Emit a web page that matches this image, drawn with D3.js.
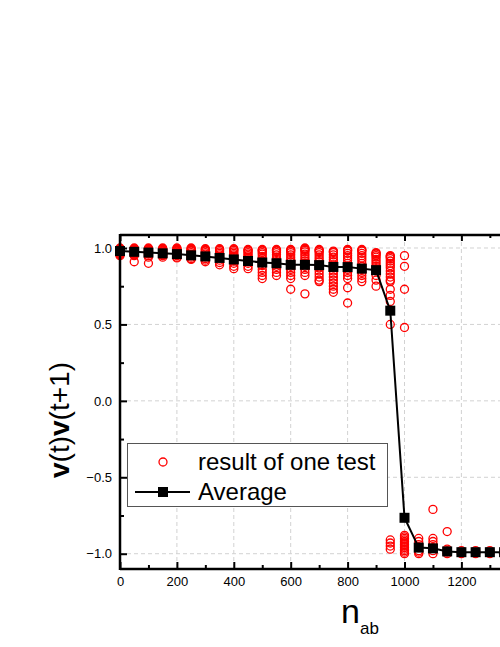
<!DOCTYPE html>
<meta charset="utf-8">
<style>
  body { margin: 0; background: #fff; }
  svg { font-family: "Liberation Sans", Arial, Helvetica, sans-serif; }
</style>

<!-- Load d3.js -->
<script src="https://d3js.org/d3.v7.min.js"></script>

<div id="chart"></div>
<script>

// n_ab values where the runs were made
var nab = [0, 50, 100, 150, 200, 250, 300, 350, 400, 450, 500, 550, 600, 650, 700,
           750, 800, 850, 900, 950, 1000, 1050, 1100, 1150, 1200, 1250, 1300, 1350, 1400];

// average of v(t)v(t+1) at each n_ab
var average = [0.98, 0.975, 0.97, 0.965, 0.96, 0.952, 0.945, 0.935, 0.925, 0.915, 0.905, 0.9, 0.89, 0.89, 0.888,
               0.876, 0.875, 0.865, 0.855, 0.59, -0.765, -0.96, -0.965, -0.985, -0.99, -0.99, -0.99, -0.99, -0.99];

// single test results, one list per n_ab (same order as nab)
var testResults = [
  [1.0, 0.995, 0.99, 0.985, 0.98, 0.975, 0.97, 0.965, 0.96, 0.955, 0.95],
  [1.0, 0.995, 0.99, 0.985, 0.98, 0.975, 0.97, 0.965, 0.96, 0.955, 0.95, 0.91],
  [1.0, 0.995, 0.99, 0.985, 0.98, 0.975, 0.97, 0.965, 0.96, 0.95, 0.94, 0.9],
  [1.0, 0.995, 0.99, 0.985, 0.98, 0.975, 0.97, 0.965, 0.96, 0.955, 0.95, 0.94],
  [1.0, 0.995, 0.99, 0.985, 0.98, 0.975, 0.97, 0.965, 0.96, 0.95, 0.94, 0.935],
  [1.0, 0.995, 0.99, 0.985, 0.98, 0.97, 0.96, 0.955, 0.95, 0.94, 0.93, 0.925],
  [0.995, 0.99, 0.985, 0.98, 0.97, 0.96, 0.95, 0.94, 0.93, 0.92, 0.91],
  [0.995, 0.99, 0.985, 0.975, 0.965, 0.955, 0.945, 0.935, 0.92, 0.905, 0.89],
  [0.995, 0.99, 0.985, 0.975, 0.965, 0.955, 0.945, 0.935, 0.925, 0.915, 0.9, 0.88, 0.865],
  [0.99, 0.985, 0.98, 0.97, 0.96, 0.95, 0.94, 0.93, 0.92, 0.91, 0.9, 0.88, 0.865],
  [0.99, 0.985, 0.98, 0.97, 0.96, 0.945, 0.93, 0.915, 0.9, 0.885, 0.86, 0.84, 0.82, 0.8],
  [0.99, 0.985, 0.98, 0.97, 0.955, 0.94, 0.925, 0.91, 0.895, 0.88, 0.86, 0.84, 0.82],
  [0.99, 0.985, 0.98, 0.97, 0.955, 0.94, 0.925, 0.91, 0.895, 0.88, 0.86, 0.84, 0.82, 0.8, 0.73],
  [1.0, 0.995, 0.99, 0.985, 0.975, 0.96, 0.945, 0.93, 0.915, 0.9, 0.88, 0.86, 0.84, 0.82, 0.7],
  [0.99, 0.985, 0.98, 0.97, 0.955, 0.94, 0.925, 0.91, 0.89, 0.87, 0.85, 0.83, 0.81, 0.79, 0.78],
  [0.98, 0.975, 0.97, 0.955, 0.94, 0.925, 0.91, 0.89, 0.87, 0.85, 0.83, 0.81, 0.79, 0.77, 0.75, 0.73, 0.71],
  [0.99, 0.985, 0.98, 0.965, 0.95, 0.935, 0.92, 0.9, 0.88, 0.86, 0.84, 0.82, 0.8, 0.74, 0.64],
  [0.99, 0.985, 0.98, 0.965, 0.95, 0.935, 0.92, 0.9, 0.88, 0.86, 0.84, 0.82, 0.8, 0.78],
  [0.97, 0.965, 0.96, 0.95, 0.94, 0.925, 0.91, 0.895, 0.88, 0.865, 0.85, 0.82, 0.79, 0.75],
  [0.95, 0.945, 0.94, 0.93, 0.915, 0.9, 0.885, 0.87, 0.85, 0.83, 0.81, 0.79, 0.78, 0.73, 0.69, 0.65, 0.5,
   -0.91, -0.93, -0.95, -0.97],
  [0.95, 0.88, 0.73, 0.48, -0.88, -0.89, -0.9, -0.91, -0.92, -0.93, -0.94, -0.95, -0.96, -0.97, -0.98, -0.99, -1.0],
  [-0.9, -0.92, -0.94, -0.96, -0.98, -0.99, -1.0],
  [-0.71, -0.9, -0.92, -0.94, -0.96, -0.98, -1.0],
  [-0.855, -0.97, -0.98, -0.99, -1.0],
  [-0.98, -0.99, -1.0],
  [-0.98, -0.99, -1.0],
  [-0.98, -0.99, -1.0],
  [-0.98, -0.99, -1.0],
  [-0.98, -0.99, -1.0]
];

// tick values (the frame runs past the right edge of the page)
var xMajor = [0, 200, 400, 600, 800, 1000, 1200];
var xMinor = [100, 300, 500, 700, 900, 1100, 1300];
var yMajor = [-1.0, -0.5, 0.0, 0.5, 1.0];
var yMinor = [-0.75, -0.25, 0.25, 0.75];

var W = 500, H = 647;
var mLeft = 120, mTop = 235, mBottom = 569;

var svg = d3.select("#chart")
  .append("svg")
    .attr("width", W)
    .attr("height", H);

var x = d3.scaleLinear()
  .domain([0, 1400])
  .range([mLeft, mLeft + 1400 * 0.2845]);

var y = d3.scaleLinear()
  .domain([-1.1, 1.085])
  .range([mBottom, mTop]);

var plotRight = x.range()[1];

// grid lines
var grid = svg.append("g")
  .attr("stroke", "#d2d2d2")
  .attr("stroke-width", 1)
  .attr("stroke-dasharray", "4,3");

grid.selectAll(".vgrid")
  .data(xMajor.slice(1))
  .enter().append("line")
    .attr("x1", function(d) { return x(d); })
    .attr("x2", function(d) { return x(d); })
    .attr("y1", mTop)
    .attr("y2", mBottom);

grid.selectAll(".hgrid")
  .data(yMajor)
  .enter().append("line")
    .attr("x1", mLeft)
    .attr("x2", plotRight)
    .attr("y1", function(d) { return y(d); })
    .attr("y2", function(d) { return y(d); });

// single test points
var points = [];
nab.forEach(function(n, i) {
  testResults[i].forEach(function(v) { points.push({ n: n, v: v }); });
});

svg.append("g")
  .selectAll("circle")
  .data(points)
  .enter().append("circle")
    .attr("cx", function(d) { return x(d.n); })
    .attr("cy", function(d) { return y(d.v); })
    .attr("r", 4)
    .attr("fill", "none")
    .attr("stroke", "#ff0000")
    .attr("stroke-width", 1.3);

// average line and squares
var avgData = nab.map(function(n, i) { return { n: n, v: average[i] }; });

svg.append("path")
  .datum(avgData)
  .attr("fill", "none")
  .attr("stroke", "#000")
  .attr("stroke-width", 2)
  .attr("d", d3.line()
    .x(function(d) { return x(d.n); })
    .y(function(d) { return y(d.v); })
  );

svg.append("g")
  .selectAll("rect")
  .data(avgData)
  .enter().append("rect")
    .attr("x", function(d) { return x(d.n) - 5; })
    .attr("y", function(d) { return y(d.v) - 5; })
    .attr("width", 10)
    .attr("height", 10)
    .attr("fill", "#000");

// axes (ticks point inward)
function styleAxis(g, width) {
  g.select(".domain").remove();
  g.selectAll(".tick line").attr("stroke", "#000").attr("stroke-width", width);
  g.selectAll("text").attr("fill", "#000").attr("font-size", "13px")
    .attr("font-family", "'Liberation Sans', Arial, sans-serif");
}

svg.append("g")
  .attr("transform", "translate(0," + mBottom + ")")
  .call(d3.axisBottom(x).tickValues(xMajor).tickSize(-7).tickPadding(8).tickFormat(d3.format("d")))
  .call(styleAxis, 2);
svg.append("g")
  .attr("transform", "translate(0," + mBottom + ")")
  .call(d3.axisBottom(x).tickValues(xMinor).tickSize(-4).tickFormat(""))
  .call(styleAxis, 2);

svg.append("g")
  .attr("transform", "translate(0," + mTop + ")")
  .call(d3.axisTop(x).tickValues(xMajor).tickSize(-6).tickFormat(""))
  .call(styleAxis, 2);
svg.append("g")
  .attr("transform", "translate(0," + mTop + ")")
  .call(d3.axisTop(x).tickValues(xMinor).tickSize(-3).tickFormat(""))
  .call(styleAxis, 2);

svg.append("g")
  .attr("transform", "translate(" + mLeft + ",0)")
  .call(d3.axisLeft(y).tickValues(yMajor).tickSize(-7).tickPadding(8).tickFormat(d3.format(".1f")))
  .call(styleAxis, 2);
svg.append("g")
  .attr("transform", "translate(" + mLeft + ",0)")
  .call(d3.axisLeft(y).tickValues(yMinor).tickSize(-4).tickFormat(""))
  .call(styleAxis, 2);

// frame lines
svg.append("line")
  .attr("x1", mLeft).attr("x2", mLeft).attr("y1", mTop - 1).attr("y2", mBottom + 1)
  .attr("stroke", "#000").attr("stroke-width", 2.5);
svg.append("line")
  .attr("x1", mLeft).attr("x2", W).attr("y1", mTop).attr("y2", mTop)
  .attr("stroke", "#000").attr("stroke-width", 2.5);
svg.append("line")
  .attr("x1", mLeft).attr("x2", W).attr("y1", mBottom).attr("y2", mBottom)
  .attr("stroke", "#000").attr("stroke-width", 2.5);

// axis titles
var ylab = svg.append("text")
  .attr("transform", "translate(69,420) rotate(-90)")
  .attr("text-anchor", "middle")
  .attr("font-size", "28px")
  .attr("fill", "#000");
ylab.append("tspan").attr("font-weight", "bold").text("v");
ylab.append("tspan").text("(t)");
ylab.append("tspan").attr("font-weight", "bold").text("v");
ylab.append("tspan").text("(t+1)");

var xlab = svg.append("text")
  .attr("x", 341)
  .attr("y", 623)
  .attr("font-size", "34px")
  .attr("fill", "#000");
xlab.append("tspan").text("n");
xlab.append("tspan").attr("font-size", "17px").attr("dy", 11).text("ab");

// legend
var legend = svg.append("g");
legend.append("rect")
  .attr("x", 127.5).attr("y", 443.5)
  .attr("width", 260).attr("height", 63)
  .attr("fill", "#fff")
  .attr("stroke", "#555")
  .attr("stroke-width", 1);

legend.append("circle")
  .attr("cx", 163).attr("cy", 462).attr("r", 4)
  .attr("fill", "none").attr("stroke", "#ff0000").attr("stroke-width", 1.3);
legend.append("text")
  .attr("x", 198).attr("y", 462).attr("dy", "0.35em")
  .attr("font-size", "24px").attr("fill", "#000")
  .text("result of one test");

legend.append("line")
  .attr("x1", 135).attr("x2", 190).attr("y1", 492).attr("y2", 492)
  .attr("stroke", "#000").attr("stroke-width", 2);
legend.append("rect")
  .attr("x", 158).attr("y", 487).attr("width", 10).attr("height", 10)
  .attr("fill", "#000");
legend.append("text")
  .attr("x", 198).attr("y", 492).attr("dy", "0.35em")
  .attr("font-size", "24px").attr("fill", "#000")
  .text("Average");

</script>
